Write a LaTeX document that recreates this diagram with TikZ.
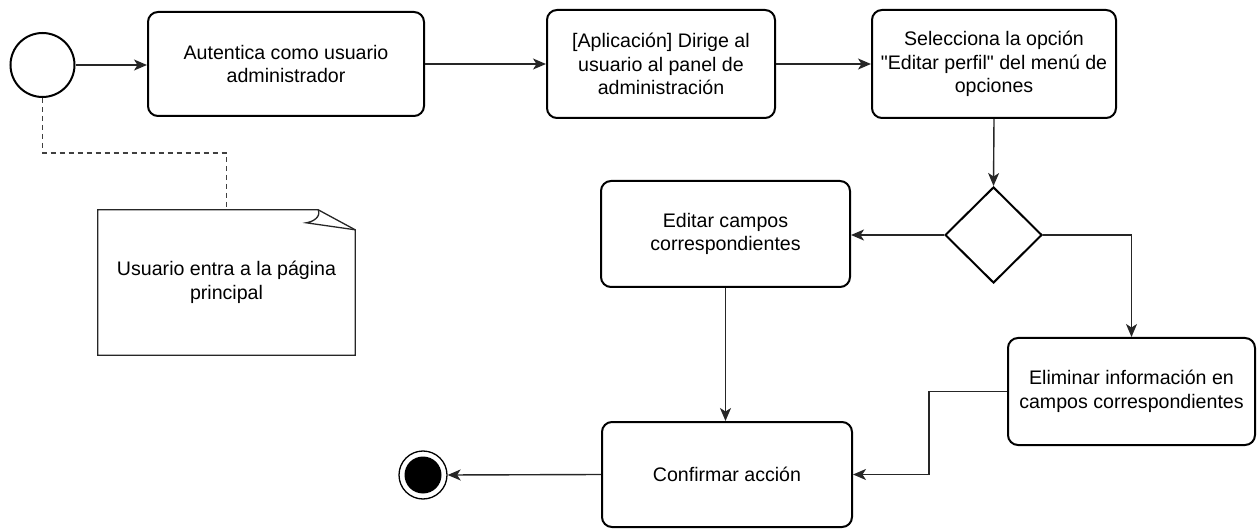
\documentclass[tikz,border=0pt]{standalone}
\usepackage{fontspec}
\setmainfont{Liberation Sans}
\usetikzlibrary{shapes.geometric,arrows.meta,calc}
\begin{document}
\begin{tikzpicture}[x=1pt,y=-1pt,
  every node/.style={font=\fontsize{19.6}{23.5}\selectfont, align=center, inner sep=0pt},
  act/.style={draw=black, line width=2pt, rounded corners=10pt, fill=white},
  conn/.style={draw=black!85, line width=1.4pt, -{Stealth[length=13pt,width=11pt,inset=3.5pt]}},
  notelink/.style={draw=black!75, line width=1.6pt, dash pattern=on 5pt off 4pt}
]
\useasboundingbox (0,0) rectangle (1259,529);
% start
\node[draw=black, line width=2pt, circle, minimum size=64pt] (start) at (42.5,65) {};
% activities
\node[act, minimum width=276pt, minimum height=104pt] (b1) at (286,64) {Autentica como usuario\\administrador};
\node[act, minimum width=228pt, minimum height=108pt] (b2) at (661,64) {[Aplicación] Dirige al\\usuario al panel de\\administración};
\node[act, minimum width=244pt, minimum height=108pt] (b3) at (994,64) {Selecciona la opción\\\textquotedbl Editar perfil\textquotedbl{} del menú de\\opciones};
\node[draw=black, line width=2pt, diamond, aspect=1, minimum width=97pt, minimum height=96pt] (dia) at (993.5,235) {};
\node[act, minimum width=249pt, minimum height=106pt] (ed) at (725.5,234) {Editar campos\\correspondientes};
\node[act, minimum width=247pt, minimum height=107pt] (el) at (1131.5,391.5) {Eliminar información en\\campos correspondientes};
\node[act, minimum width=250pt, minimum height=105pt] (conf) at (727,474.5) {Confirmar acción};
% end
\node[draw=black, line width=1.3pt, circle, minimum size=48pt] (end) at (423,475) {};
\fill[black] (end.center) circle (18.5pt);
% note
\node[minimum width=257pt, minimum height=145pt] (note) at (226.5,282.5) {};
\draw[black!85, line width=1.3pt, fill=white, line join=miter]
  (note.north west) -- ($(note.north east)+(-37,0)$) -- ($(note.north east)+(0,20)$)
  -- (note.south east) -- (note.south west) -- cycle;
\draw[black!85, line width=1.3pt]
  ($(note.north east)+(-37,0)$) .. controls ($(note.north east)+(-34,7)$) and ($(note.north east)+(-42,12)$) .. ($(note.north east)+(-49,13)$)
  -- ($(note.north east)+(0,20)$);
\node (notetext) at (note.center) {Usuario entra a la página\\principal};
% connectors
\draw[conn] (start.east) -- (b1.west |- start.east);
\draw[conn] (b1.east) -- (b2.west);
\draw[conn] (b2.east) -- (b3.west);
\draw[conn] (b3.south) -- (dia.north);
\draw[conn] (dia.west) -- (ed.east |- dia.west);
\draw[conn] (dia.east) -| (el.north);
\draw[conn] (ed.south) -- (ed.south |- conf.north);
\draw[conn] (el.west) -- ++(-78,0) |- (conf.east);
\draw[conn] (conf.west) -- (end.east);
\draw[notelink] (start.south) -- ++(0,55) -| (note.north);
\end{tikzpicture}
\end{document}
